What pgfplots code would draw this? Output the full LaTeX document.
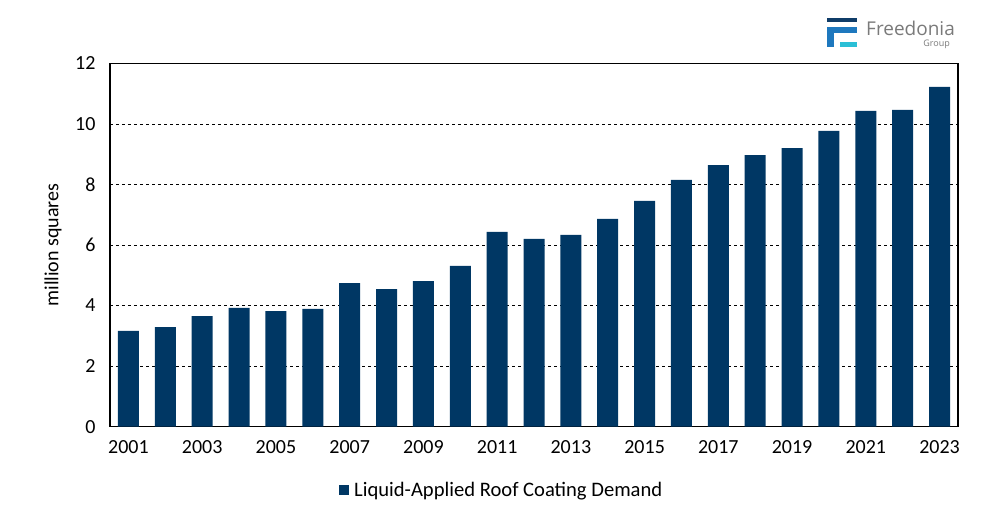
\documentclass[border=0pt]{standalone}
\usepackage{pgfplots}
\pgfplotsset{compat=1.18}
\usepackage{fontspec}
\setmainfont{Carlito}
\newfontfamily\logofont{Open Sans}
\definecolor{barblue}{HTML}{003764}
\definecolor{logodark}{HTML}{0F3C68}
\definecolor{logomid}{HTML}{1E78BE}
\definecolor{logocyan}{HTML}{2BBFD6}
\definecolor{logogray}{HTML}{7A7A7A}
\begin{document}
\begin{tikzpicture}[font=\fontsize{20}{24}\selectfont]
\path[use as bounding box] (0pt,0pt) rectangle (983pt,510pt);
\begin{axis}[
    at={(110pt,83.3pt)}, anchor=south west,
    scale only axis, width=848pt, height=363.4pt,
    ymin=0, ymax=12, ytick={0,2,...,12},
    xmin=-0.5, xmax=22.5,
    xtick={0,2,...,22},
    xticklabels={2001,2003,2005,2007,2009,2011,2013,2015,2017,2019,2021,2023},
    major tick length=0pt,
    ymajorgrids, grid style={black, dashed, line width=0.6pt},
    axis line style={black, line width=1.4pt},
    ticklabel style={font=\fontsize{20}{24}\selectfont},
    /pgf/number format/assume math mode=true,
    yticklabel style={xshift=-11pt},
    xticklabel style={yshift=-10pt},
    ylabel={million squares},
    ylabel style={font=\fontsize{17}{20}\selectfont},
    every axis y label/.style={at={(-57pt,0.5)}, rotate=90, anchor=center},
    ybar, bar width=21pt,
    legend style={at={(0.462,-0.174)}, anchor=center, draw=none,
        font=\fontsize{20.6}{24}\selectfont},
    legend image code/.code={\fill[barblue] (0pt,-5pt) rectangle (10pt,5pt);},
]
\addplot[fill=barblue, draw=none] coordinates {
 (0,3.16) (1,3.29) (2,3.65) (3,3.92) (4,3.82) (5,3.89) (6,4.74) (7,4.54)
 (8,4.81) (9,5.31) (10,6.43) (11,6.20) (12,6.33) (13,6.86) (14,7.46)
 (15,8.15) (16,8.64) (17,8.97) (18,9.20) (19,9.77) (20,10.43) (21,10.46)
 (22,11.22)};
\addlegendentry{\hspace{3pt}Liquid-Applied Roof Coating Demand}
\end{axis}
% Freedonia logo
\fill[logodark] (827pt,488pt) rectangle (857pt,492pt);
\fill[logomid] (827pt,463pt) rectangle (834pt,483pt);
\fill[logomid] (827pt,477pt) rectangle (857pt,483pt);
\fill[logocyan] (840pt,463pt) rectangle (857pt,468pt);
\node[anchor=west, inner sep=0pt, text=logogray, font=\logofont\fontsize{19}{22}\selectfont] at (866pt,482pt) {Freedonia};
\node[anchor=east, inner sep=0pt, text=logogray, font=\logofont\fontsize{9}{10}\selectfont] at (950pt,466pt) {Group};
\end{tikzpicture}
\end{document}
